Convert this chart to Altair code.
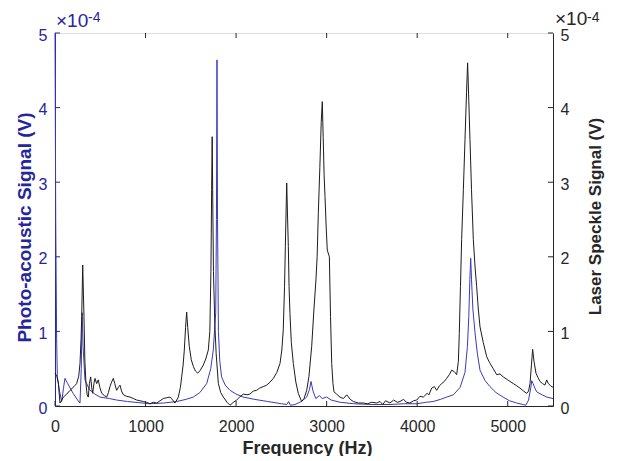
import altair as alt
import pandas as pd

# ---------------- data (signal values in units of 1e-4 V) ----------------
freq_pa = [0, 8, 18, 26, 50, 74, 95, 110, 140, 200, 250, 276, 290, 300, 310, 331, 380, 440, 497,
           600, 681, 800, 1049, 1200, 1344, 1450, 1528, 1600, 1675, 1720, 1748, 1775, 1783, 1789,
           1795, 1805, 1820, 1840, 1880, 1933, 2000, 2077, 2200, 2350, 2500, 2560, 2580, 2600,
           2650, 2720, 2780, 2810, 2827, 2850, 2880, 2920, 2950, 3000, 3050, 3150, 3300, 3500,
           3700, 3850, 3995, 4100, 4176, 4260, 4326, 4400, 4474, 4528, 4555, 4570, 4582, 4591,
           4600, 4615, 4639, 4665, 4694, 4750, 4804, 4870, 4948, 5020, 5099, 5170, 5200, 5230,
           5255, 5265, 5280, 5300, 5320, 5380, 5430, 5500]
pa_signal = [5.0, 2.5, 0.9, 0.39, 0.2, 0.06, 0.25, 0.37, 0.3, 0.17, 0.08, 0.04, 0.5, 1.25, 0.8,
             0.35, 0.22, 0.16, 0.12, 0.1, 0.08, 0.06, 0.03, 0.04, 0.06, 0.09, 0.12, 0.18, 0.3,
             0.5, 0.75, 1.25, 2.5, 4.64, 2.5, 1.0, 0.6, 0.39, 0.28, 0.21, 0.16, 0.12, 0.09, 0.06,
             0.03, 0.02, 0.06, 0.01, 0.02, 0.06, 0.12, 0.22, 0.33, 0.2, 0.1, 0.14, 0.1, 0.12,
             0.08, 0.05, 0.03, 0.02, 0.02, 0.03, 0.03, 0.05, 0.06, 0.09, 0.12, 0.15, 0.25, 0.45,
             0.8, 1.2, 1.7, 1.98, 1.7, 1.3, 0.98, 0.7, 0.48, 0.34, 0.26, 0.18, 0.12, 0.07, 0.04,
             0.02, 0.01, 0.08, 0.25, 0.34, 0.3, 0.24, 0.19, 0.15, 0.12, 0.1]

freq_ls = [0, 20, 37, 55, 75, 92, 130, 166, 210, 239, 262, 276, 288, 295, 306, 314, 320, 330,
           342, 355, 368, 380, 394, 405, 416, 430, 442, 460, 478, 495, 516, 545, 571, 590, 607,
           625, 644, 660, 681, 700, 718, 735, 755, 790, 828, 865, 902, 940, 975, 1010, 1049,
           1085, 1123, 1160, 1196, 1230, 1270, 1300, 1325, 1345, 1362, 1385, 1399, 1415, 1428,
           1442, 1454, 1466, 1483, 1505, 1528, 1550, 1576, 1605, 1638, 1665, 1693, 1710, 1722,
           1730, 1736, 1742, 1750, 1765, 1780, 1804, 1830, 1859, 1900, 1933, 1970, 2006, 2040,
           2080, 2120, 2153, 2190, 2227, 2260, 2300, 2338, 2375, 2411, 2450, 2485, 2505, 2521,
           2535, 2544, 2552, 2559, 2567, 2577, 2585, 2595, 2610, 2632, 2660, 2687, 2724, 2750,
           2780, 2805, 2835, 2860, 2882, 2895, 2908, 2925, 2940, 2952, 2962, 2972, 2982, 2995,
           3007, 3030, 3043, 3056, 3070, 3081, 3110, 3147, 3185, 3222, 3260, 3295, 3350, 3405,
           3450, 3500, 3552, 3589, 3620, 3650, 3700, 3740, 3780, 3810, 3850, 3880, 3920, 3960,
           3995, 4030, 4068, 4110, 4130, 4160, 4190, 4215, 4245, 4271, 4300, 4326, 4355, 4381,
           4410, 4436, 4455, 4465, 4478, 4491, 4510, 4528, 4545, 4557, 4570, 4583, 4600, 4620,
           4640, 4657, 4675, 4694, 4730, 4768, 4800, 4840, 4878, 4915, 4951, 5000, 5062, 5100,
           5135, 5175, 5209, 5230, 5246, 5262, 5275, 5290, 5312, 5335, 5356, 5385, 5411, 5430,
           5448, 5475, 5500]
ls_signal = [0.44, 0.4, 0.31, 0.04, 0.08, 0.12, 0.16, 0.21, 0.26, 0.3, 0.4, 0.57, 0.9, 1.2, 1.89,
             1.5, 1.2, 0.6, 0.3, 0.15, 0.12, 0.3, 0.39, 0.25, 0.17, 0.3, 0.37, 0.3, 0.35, 0.25,
             0.17, 0.14, 0.12, 0.18, 0.26, 0.32, 0.37, 0.3, 0.21, 0.25, 0.28, 0.2, 0.15, 0.13,
             0.12, 0.1, 0.08, 0.07, 0.06, 0.05, 0.03, 0.05, 0.04, 0.07, 0.1, 0.11, 0.12, 0.08,
             0.04, 0.08, 0.12, 0.25, 0.39, 0.55, 0.75, 1.05, 1.26, 1.05, 0.8, 0.62, 0.53, 0.47,
             0.44, 0.48, 0.55, 0.63, 0.75, 1.0, 1.8, 2.9, 3.61, 2.8, 1.8, 1.1, 0.7, 0.3, 0.18,
             0.12, 0.05, 0.01, 0.05, 0.08, 0.12, 0.16, 0.15, 0.16, 0.2, 0.21, 0.24, 0.26, 0.28,
             0.32, 0.37, 0.45, 0.57, 0.75, 1.02, 1.6, 2.14, 2.6, 2.99, 2.6, 2.14, 1.6, 1.24,
             0.85, 0.57, 0.32, 0.17, 0.06, 0.1, 0.21, 0.4, 0.8, 1.3, 1.69, 2.0, 2.58, 3.2, 3.8,
             4.08, 3.6, 3.1, 2.81, 2.4, 2.09, 2.0, 1.2, 0.57, 0.3, 0.19, 0.16, 0.12, 0.1, 0.15,
             0.09, 0.06, 0.04, 0.04, 0.03, 0.05, 0.04, 0.06, 0.02, 0.07, 0.04, 0.08, 0.05, 0.06,
             0.09, 0.05, 0.04, 0.07, 0.08, 0.13, 0.12, 0.17, 0.15, 0.24, 0.26, 0.21, 0.27, 0.3,
             0.33, 0.37, 0.42, 0.48, 0.46, 0.42, 0.6, 0.97, 1.6, 2.23, 2.9, 3.57, 4.2, 4.6, 4.1,
             3.57, 2.9, 2.23, 1.85, 1.6, 1.3, 1.06, 0.85, 0.66, 0.58, 0.5, 0.42, 0.43, 0.39,
             0.35, 0.3, 0.27, 0.24, 0.2, 0.17, 0.2, 0.3, 0.55, 0.76, 0.6, 0.44, 0.38, 0.33, 0.3,
             0.28, 0.35, 0.3, 0.27, 0.25]

x_ticks = [0, 1000, 2000, 3000, 4000, 5000]
y_ticks = [0, 1, 2, 3, 4, 5]
exp_base = ["\u00d710"]
exp_power = ["-4"]

# ---------------- styling ----------------
W, H = 498, 373
BLUE = "#25259c"
LINE_BLUE = "#3a3ab8"
DARK = "#262626"
FONT = "Liberation Sans"

pa_df = pd.DataFrame({"freq": freq_pa, "val": pa_signal})
ls_df = pd.DataFrame({"freq": freq_ls, "val": ls_signal})
xt_df = pd.DataFrame({"freq": x_ticks})
xt_top_df = pd.DataFrame({"freq": x_ticks[1:]})
yt_df = pd.DataFrame({"val": y_ticks})
base_df = pd.DataFrame({"t": exp_base})
pow_df = pd.DataFrame({"t": exp_power})

xscale = alt.Scale(domain=[0, 5500], nice=False, zero=False)
yscale = alt.Scale(domain=[0, 5], nice=False, zero=False)

x_axis = alt.Axis(values=x_ticks, format="d", title="Frequency (Hz)", ticks=False, tickSize=0,
                  labelFontSize=16, labelColor=DARK, labelPadding=12, labelFlush=False,
                  domainColor=DARK, grid=False, titleFontSize=18, titleFontWeight="bold",
                  titleColor=DARK, titleX=252, titleY=47, titleBaseline="alphabetic",
                  labelFont=FONT, titleFont=FONT)
X = alt.X("freq:Q", scale=xscale, axis=x_axis)

left_axis = alt.Axis(orient="left", values=y_ticks, format="d", ticks=False, tickSize=0,
                     labelFontSize=16, labelColor=BLUE, labelPadding=8, labelOffset=2,
                     labelFlush=False, domainColor=BLUE, grid=False,
                     title="Photo-acoustic Signal (V)", titleColor=BLUE, titleFontSize=19,
                     titleFontWeight="bold", titleAngle=270, titleX=-25, titleY=194,
                     titleBaseline="alphabetic", labelFont=FONT, titleFont=FONT)
right_axis = alt.Axis(orient="right", values=y_ticks, format="d", ticks=False, tickSize=0,
                      labelFontSize=16, labelColor=DARK, labelPadding=7, labelOffset=2,
                      labelFlush=False, domainColor=DARK, grid=False,
                      title="Laser Speckle Signal (V)", titleColor=DARK, titleFontSize=17,
                      titleFontWeight="bold", titleAngle=270, titleX=47, titleY=183,
                      titleBaseline="alphabetic", labelFont=FONT, titleFont=FONT)

pa_line = alt.Chart(pa_df).mark_line(color=LINE_BLUE, strokeWidth=1).encode(
    x=X, y=alt.Y("val:Q", scale=yscale, axis=left_axis))
ls_line = alt.Chart(ls_df).mark_line(color="#1c1c1c", strokeWidth=1).encode(
    x=X, y=alt.Y("val:Q", scale=yscale, axis=right_axis))

# inward ticks (MATLAB style)
bottom_ticks = alt.Chart(xt_df).mark_rule(color=DARK, strokeWidth=1).encode(
    x=X, y=alt.value(H), y2=alt.value(H - 5))
top_ticks = alt.Chart(xt_top_df).mark_rule(color=DARK, strokeWidth=1).encode(
    x=X, y=alt.value(0), y2=alt.value(5))
left_ticks = alt.Chart(yt_df).mark_rule(color=BLUE, strokeWidth=1).encode(
    y=alt.Y("val:Q", scale=yscale, axis=None), x=alt.value(0), x2=alt.value(5))
right_ticks = alt.Chart(yt_df).mark_rule(color=DARK, strokeWidth=1).encode(
    y=alt.Y("val:Q", scale=yscale, axis=None), x=alt.value(W), x2=alt.value(W - 5))

# exponent annotations
lb = alt.Chart(base_df).mark_text(align="left", baseline="alphabetic", fontSize=19,
                                  color=BLUE, font=FONT).encode(
    x=alt.value(1), y=alt.value(-6), text="t:N", size=alt.value(19))
lp = alt.Chart(pow_df).mark_text(align="left", baseline="alphabetic", fontSize=14,
                                 color=BLUE, font=FONT).encode(
    x=alt.value(33), y=alt.value(-11), text="t:N", size=alt.value(14))
rb = alt.Chart(base_df).mark_text(align="left", baseline="alphabetic", fontSize=19,
                                  color=DARK, font=FONT).encode(
    x=alt.value(W + 2), y=alt.value(-8), text="t:N", size=alt.value(19))
rp = alt.Chart(pow_df).mark_text(align="left", baseline="alphabetic", fontSize=14,
                                 color=DARK, font=FONT).encode(
    x=alt.value(W + 34), y=alt.value(-11), text="t:N", size=alt.value(14))

chart = alt.layer(
    pa_line, ls_line, bottom_ticks, top_ticks, left_ticks, right_ticks, lb, lp, rb, rp
).resolve_scale(y="independent").properties(
    width=W, height=H,
    autosize=alt.AutoSizeParams(type="none"),
    padding={"left": 47, "top": 25, "right": 56, "bottom": 50},
    background="white",
).configure_view(stroke="#3a3a3a", strokeWidth=1).configure(font=FONT)

chart.save("out.html", embed_options={"renderer": "svg", "actions": False})
